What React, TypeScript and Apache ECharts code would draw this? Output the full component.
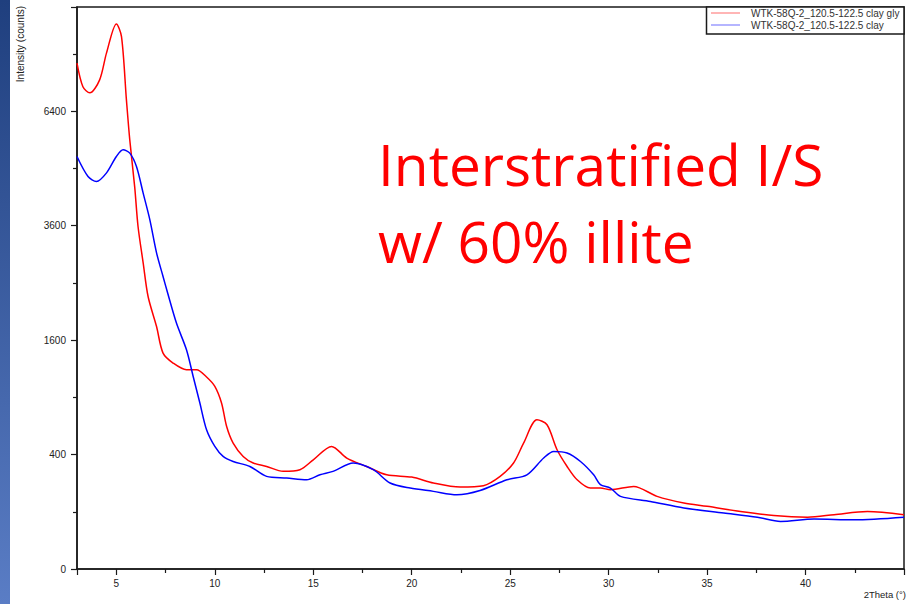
import React, { useEffect, useRef } from "react";
import * as echarts from "echarts";

// 2Theta (deg) and intensity (counts)
const redX = [3.0, 3.3, 3.65, 4.15, 4.5, 5.0, 5.26, 5.51, 5.68, 5.93, 6.1, 6.36, 6.61, 7.04, 7.37, 7.88, 8.56, 9.07, 9.58, 10.0, 10.34, 10.6, 10.93, 11.44, 11.95, 12.63, 13.47, 14.32, 15.0, 15.93, 16.7, 17.71, 18.73, 20.0, 21.1, 22.46, 23.64, 24.49, 25.17, 25.68, 26.36, 26.87, 27.38, 27.89, 28.4, 29.07, 29.58, 30.09, 31.27, 32.46, 33.82, 35.0, 36.7, 38.39, 40.1, 41.45, 43.14, 45.0];
const redY = [7811, 7100, 6922, 7305, 8133, 9072, 8655, 6719, 5623, 4459, 3581, 2862, 2267, 1795, 1423, 1295, 1212, 1212, 1125, 1017, 841, 620, 484, 387, 343, 321, 291, 301, 364, 459, 376, 321, 271, 258, 226, 205, 212, 262, 343, 484, 680, 635, 434, 321, 243, 200, 200, 192, 208, 161, 133, 120, 101, 87, 82, 90, 101, 90];

const blueX = [3.0, 3.56, 3.99, 4.49, 5.0, 5.34, 5.68, 6.02, 6.36, 6.7, 7.04, 7.37, 7.6, 8.05, 8.56, 8.9, 9.24, 9.58, 10.0, 10.42, 10.93, 11.78, 12.63, 13.65, 14.66, 15.34, 16.0, 17.03, 18.05, 18.9, 19.92, 21.1, 22.29, 23.47, 24.83, 25.85, 26.7, 27.21, 27.89, 28.57, 29.24, 29.58, 30.09, 30.6, 32.12, 33.82, 35.85, 37.55, 38.73, 40.43, 42.46, 45.0];
const blueY = [5194, 4703, 4584, 4785, 5194, 5364, 5280, 4945, 4313, 3723, 3052, 2612, 2329, 1846, 1467, 1132, 841, 592, 459, 387, 353, 321, 262, 253, 243, 271, 291, 343, 301, 226, 200, 184, 168, 188, 243, 271, 376, 422, 411, 353, 271, 217, 200, 161, 139, 114, 96, 82, 69, 76, 74, 82];

const seriesNames = ["WTK-58Q-2_120.5-122.5 clay gly", "WTK-58Q-2_120.5-122.5 clay"];
const yTickValues = [0, 400, 1600, 3600, 6400];
const annotationLines = ["Interstratified I/S", "w/ 60% illite"];

const axisFont = "'Liberation Sans', Arial, sans-serif";

export default function App() {
  const ref = useRef<HTMLDivElement>(null);
  useEffect(() => {
    document.body.style.margin = "0";
    const chart = echarts.init(ref.current!, null, { renderer: "svg" });
    const toPairs = (xs: number[], ys: number[]) => xs.map((x, i) => [x, Math.sqrt(ys[i])]);
    const annoStyle = {
      fontSize: 56.8,
      fontFamily: "'Open Sans', 'Noto Sans', sans-serif",
      fill: "#ff0000",
      textVerticalAlign: "middle",
    };
    chart.setOption({
      animation: false,
      backgroundColor: "#ffffff",
      grid: {
        left: 77,
        top: 7,
        right: 9,
        bottom: 35,
        show: true,
        borderColor: "#1a1a1a",
        borderWidth: 1.5,
        backgroundColor: "transparent",
      },
      xAxis: {
        type: "value",
        min: 3,
        max: 45,
        minInterval: 5,
        maxInterval: 5,
        axisLine: { show: true, onZero: false, lineStyle: { color: "#1a1a1a", width: 1.5 } },
        axisTick: { show: true, inside: false, length: 6, lineStyle: { color: "#1a1a1a", width: 1.2 } },
        minorTick: { show: true, splitNumber: 2, length: 4, lineStyle: { color: "#1a1a1a", width: 1.2 } },
        splitLine: { show: false },
        axisLabel: {
          showMinLabel: false,
          showMaxLabel: false,
          margin: 9,
          fontSize: 10,
          color: "#222",
          fontFamily: axisFont,
        },
      },
      yAxis: {
        type: "value",
        min: 0,
        max: 98.2,
        interval: 20,
        axisLine: { show: true, lineStyle: { color: "#1a1a1a", width: 1.5 } },
        axisTick: { show: true, inside: false, length: 6, lineStyle: { color: "#1a1a1a", width: 1.2 } },
        minorTick: { show: true, splitNumber: 2, length: 4, lineStyle: { color: "#1a1a1a", width: 1.2 } },
        splitLine: { show: false },
        axisLabel: {
          showMaxLabel: false,
          margin: 11,
          fontSize: 10,
          color: "#222",
          fontFamily: axisFont,
          formatter: (v: number) => {
            const sq = Math.round(v * v);
            return yTickValues.includes(sq) ? String(sq) : "";
          },
        },
      },
      series: [
        {
          name: seriesNames[0],
          type: "line",
          data: toPairs(redX, redY),
          showSymbol: false,
          smooth: 0.3,
          lineStyle: { color: "#ff0000", width: 1.5 },
          itemStyle: { color: "#ff0000" },
          z: 2,
        },
        {
          name: seriesNames[1],
          type: "line",
          data: toPairs(blueX, blueY),
          showSymbol: false,
          smooth: 0.3,
          lineStyle: { color: "#0000ff", width: 1.5 },
          itemStyle: { color: "#0000ff" },
          z: 3,
        },
      ],
      graphic: [
        {
          type: "rect",
          left: 0,
          top: 0,
          shape: { x: 0, y: 0, width: 10, height: 604 },
          style: {
            fill: new echarts.graphic.LinearGradient(0, 0, 0, 1, [
              { offset: 0, color: "#1f3f7e" },
              { offset: 1, color: "#5a7dc5" },
            ]),
          },
          silent: true,
        },
        {
          type: "text",
          x: 20,
          y: 6,
          rotation: Math.PI / 2,
          style: {
            text: "Intensity (counts)",
            fontSize: 10,
            fontFamily: axisFont,
            fill: "#222",
            textAlign: "right",
            textVerticalAlign: "middle",
          },
        },
        {
          type: "text",
          x: 906,
          y: 594,
          style: {
            text: "2Theta (°)",
            fontSize: 9.5,
            fontFamily: axisFont,
            fill: "#222",
            textAlign: "right",
            textVerticalAlign: "middle",
          },
        },
        {
          type: "rect",
          shape: { x: 706.5, y: 7, width: 197.5, height: 27 },
          style: { fill: "#ffffff", stroke: "#1a1a1a", lineWidth: 1.5 },
          z: 10,
        },
        {
          type: "line",
          shape: { x1: 711, y1: 13, x2: 740, y2: 13 },
          style: { stroke: "#ff9c9c", lineWidth: 1.5 },
          z: 11,
        },
        {
          type: "line",
          shape: { x1: 711, y1: 25, x2: 740, y2: 25 },
          style: { stroke: "#9c9cff", lineWidth: 1.5 },
          z: 11,
        },
        {
          type: "text",
          x: 751,
          y: 13,
          style: { text: seriesNames[0], fontSize: 10, fontFamily: axisFont, fill: "#333", textVerticalAlign: "middle" },
          z: 11,
        },
        {
          type: "text",
          x: 751,
          y: 25,
          style: { text: seriesNames[1], fontSize: 10, fontFamily: axisFont, fill: "#333", textVerticalAlign: "middle" },
          z: 11,
        },
        {
          type: "text",
          x: 378,
          y: 164,
          style: { ...annoStyle, text: annotationLines[0] },
          z: 12,
        },
        {
          type: "text",
          x: 378,
          y: 241,
          style: { ...annoStyle, text: annotationLines[1] },
          z: 12,
        },
      ],
    });
    return () => chart.dispose();
  }, []);
  return <div ref={ref} style={{ width: 913, height: 604 }} />;
}
